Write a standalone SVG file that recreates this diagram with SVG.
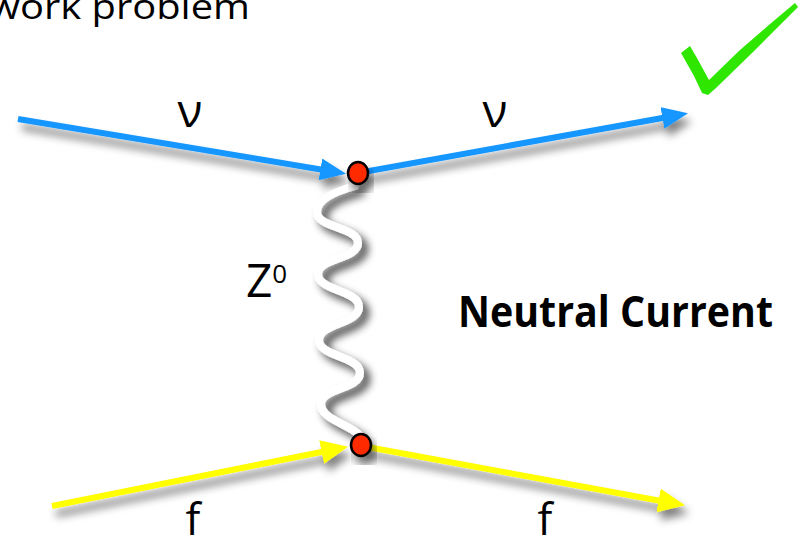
<svg xmlns="http://www.w3.org/2000/svg" width="798" height="542" viewBox="0 0 798 542">
  <style>
    .lbl { font-family: "Open Sans", "Noto Sans", sans-serif; fill: #000; }
    .blue { stroke: #1797ff; stroke-width: 6; fill: none; }
    .yellow { stroke: #ffff00; stroke-width: 6; fill: none; }
    .wave { stroke: #ffffff; stroke-width: 8; fill: none; stroke-linecap: round; }
    .vertex { fill: #ff2a00; stroke: #000; stroke-width: 2.5; }
  </style>
  <defs>
    <filter id="shadow" x="-20%" y="-20%" width="150%" height="160%">
      <feGaussianBlur in="SourceAlpha" stdDeviation="4.5"/>
      <feOffset dx="4" dy="8" result="b"/>
      <feComponentTransfer result="s"><feFuncA type="linear" slope="0.5"/></feComponentTransfer>
      <feMerge><feMergeNode in="s"/><feMergeNode in="SourceGraphic"/></feMerge>
    </filter>
    <filter id="waveShadow" x="-60%" y="-10%" width="220%" height="130%">
      <feGaussianBlur in="SourceAlpha" stdDeviation="4"/>
      <feOffset dx="6" dy="6" result="b"/>
      <feComponentTransfer result="s"><feFuncA type="linear" slope="0.75"/></feComponentTransfer>
      <feMerge><feMergeNode in="s"/><feMergeNode in="SourceGraphic"/></feMerge>
    </filter>
    <marker id="arrBlue" markerUnits="userSpaceOnUse" markerWidth="28" markerHeight="24" refX="14" refY="11" orient="auto">
      <path d="M0,0 L26,11 L0,22 z" fill="#1797ff"/>
    </marker>
    <marker id="arrYellow" markerUnits="userSpaceOnUse" markerWidth="28" markerHeight="26" refX="15" refY="12" orient="auto">
      <path d="M0,0 L27,12 L0,24 z" fill="#ffff00"/>
    </marker>
  </defs>
  <rect width="798" height="542" fill="#ffffff"/>

  <text class="lbl" x="-11" y="19" font-size="34" textLength="261" lengthAdjust="spacingAndGlyphs">work problem</text>

  <g id="connectors">
    <g filter="url(#shadow)">
      <line id="nu-in" class="blue" x1="18" y1="119" x2="334.2" y2="171.7" marker-end="url(#arrBlue)"/>
      <line id="nu-out" class="blue" x1="358" y1="173" x2="676.2" y2="115.5" marker-end="url(#arrBlue)"/>
      <line id="f-in" class="yellow" x1="52" y1="506" x2="336.3" y2="449" marker-end="url(#arrYellow)"/>
      <line id="f-out" class="yellow" x1="362" y1="446" x2="673.3" y2="503.2" marker-end="url(#arrYellow)"/>
    </g>
    <path id="z0" class="wave" filter="url(#waveShadow)" d="M355,186 C340,190 317,198 317,212 C317,228 358,227 358,243 C358,259 318,258 318,274 C318,291 359,290 359,307 C359,324 319,323 319,340 C319,357 360,356 360,373 C360,389 321,388 321,404 C321,420 352,425 360,436"/>
  </g>

  <g id="vertex-top" filter="url(#shadow)">
    <ellipse class="vertex" cx="358" cy="173" rx="10" ry="11"/>
  </g>
  <g id="vertex-bottom" filter="url(#shadow)">
    <ellipse class="vertex" cx="361" cy="445" rx="10" ry="11"/>
  </g>

  <g id="labels">
    <text class="lbl" x="190" y="127" font-size="46" text-anchor="middle">ν</text>
    <text class="lbl" x="495" y="127" font-size="46" text-anchor="middle">ν</text>
    <text class="lbl" x="193" y="535" font-size="44" text-anchor="middle">f</text>
    <text class="lbl" x="545" y="535" font-size="44" text-anchor="middle">f</text>
    <text class="lbl" x="246" y="297" font-size="46">Z<tspan font-size="26" dy="-14">0</tspan></text>
    <text class="lbl" x="458" y="327" font-size="43" font-weight="bold" textLength="315" lengthAdjust="spacingAndGlyphs">Neutral Current</text>
  </g>

  <g id="check">
    <path d="M681,53 L690,46 L697,58 L709,80 L740,50 L770,24 L795,3 L798,7 L785,20 L752,53 L716,88 L708,95 L702,93 L694,76 Z" fill="#2ee600"/>
  </g>
</svg>
